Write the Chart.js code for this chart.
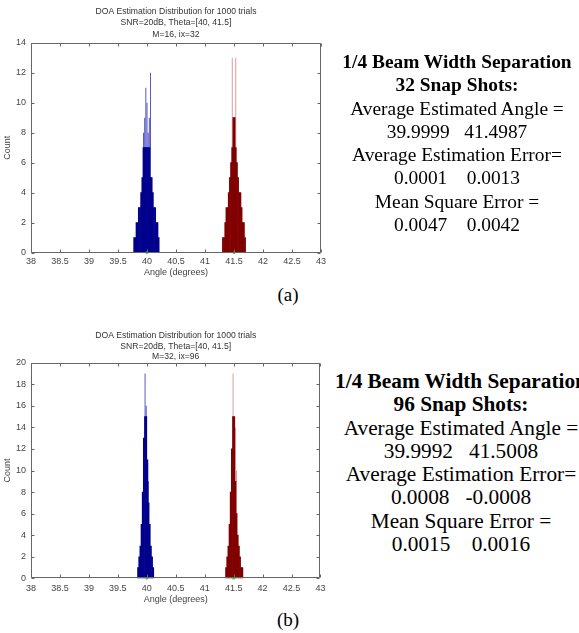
<!DOCTYPE html>
<html>
<head>
<meta charset="utf-8">
<title>DOA Estimation Distribution</title>
<script src="https://cdn.jsdelivr.net/npm/chart.js@4.4.1/dist/chart.umd.min.js"></script>
<style>
  html, body { margin: 0; padding: 0; background: #fff; }
  body { position: relative; width: 579px; height: 633px; overflow: hidden;
         font-family: "Liberation Serif", "Times New Roman", serif; color: #000; }
  canvas { position: absolute; left: 0; }
  #chartA { top: 0; }
  #chartB { top: 320px; }
  .stats { position: absolute; width: 260px; text-align: center;
           white-space: pre; line-height: 23.3px; }
  #statsA { left: 327px; top: 50px; font-size: 19.4px; }
  #statsB { left: 331px; top: 370px; font-size: 21.3px; }
  .stats b { font-weight: bold; }
  .tag { position: absolute; left: 270px; width: 36px; text-align: center; font-size: 19px; line-height: 22px; }
  #tagA { top: 284px; }
  #tagB { top: 609px; }
</style>
</head>
<body>
<canvas id="chartA" width="330" height="280"></canvas>
<canvas id="chartB" width="330" height="285"></canvas>

<div class="stats" id="statsA"><b>1/4 Beam Width Separation</b>
<b>32 Snap Shots:</b>
Average Estimated Angle =
39.9999   41.4987
Average Estimation Error=
0.0001    0.0013
Mean Square Error =
0.0047    0.0042</div>

<div class="stats" id="statsB"><b>1/4 Beam Width Separation</b>
<b>96 Snap Shots:</b>
Average Estimated Angle =
39.9992   41.5008
Average Estimation Error=
0.0008   -0.0008
Mean Square Error =
0.0015    0.0016</div>

<div class="tag" id="tagA">(a)</div>
<div class="tag" id="tagB">(b)</div>

<script>
// true source directions (green markers on the baseline)
const trueAngles = [40, 41.5];

// ---- (a) M=16, 32 snapshots ----
const titleA = ["DOA Estimation Distribution for 1000 trials", "SNR=20dB, Theta=[40, 41.5]", "M=16, ix=32"];
const binsBlueA   = [39.78, 39.80, 39.82, 39.84, 39.86, 39.88, 39.90, 39.92, 39.94, 39.96, 39.98,
                     40.00, 40.02, 40.04, 40.06, 40.08, 40.10, 40.12, 40.14, 40.16, 40.18, 40.20];
const countsBlueA = [1, 1, 2, 2, 3, 3, 4, 5, 7, 7, 7, 7, 7, 7, 5, 5, 4, 3, 3, 2, 2, 1];
const spikesBlueA = [39.94, 39.96, 39.98, 40.00, 40.02, 40.04, 40.06];
const spikeCountsBlueA = [8, 9, 11, 10, 8, 9, 12];
const binsRedA    = [41.31, 41.33, 41.35, 41.37, 41.39, 41.41, 41.43, 41.45, 41.47, 41.49,
                     41.51, 41.53, 41.55, 41.57, 41.59, 41.61, 41.63, 41.65, 41.67, 41.69];
const countsRedA  = [1, 1, 2, 3, 3, 4, 5, 6, 7, 9, 9, 7, 6, 5, 4, 4, 3, 2, 2, 1];
const spikesRedA  = [41.47, 41.53];
const spikeCountsRedA = [13, 13];

// ---- (b) M=32, 96 snapshots ----
const titleB = ["DOA Estimation Distribution for 1000 trials", "SNR=20dB, Theta=[40, 41.5]", "M=32, ix=96"];
const binsBlueB   = [39.85, 39.87, 39.89, 39.91, 39.93, 39.95, 39.97, 39.99, 40.01, 40.03, 40.05, 40.07, 40.09, 40.11];
const countsBlueB = [1, 2, 3, 5, 8, 13, 15, 15, 11, 7, 5, 3, 2, 1];
const spikesBlueB = [39.97, 39.99, 40.03];
const spikeCountsBlueB = [19, 16, 9];
const binsRedB    = [41.37, 41.39, 41.41, 41.43, 41.45, 41.47, 41.49, 41.51, 41.53, 41.55, 41.57, 41.59, 41.61, 41.63, 41.65];
const countsRedB  = [1, 2, 3, 5, 8, 12, 15, 15, 9, 6, 4, 3, 2, 1, 1];
const spikesRedB  = [41.49, 41.53, 41.55];
const spikeCountsRedB = [19, 14, 10];

// axes
const angleMin = 38, angleMax = 43, angleStep = 0.5;
const countMaxA = 14, countMaxB = 20, countStep = 2;

const pts = (xs, ys) => xs.map((x, i) => ({ x, y: ys[i] }));

// MATLAB-like box with inward ticks on all four sides
const matlabBox = {
  id: "matlabBox",
  afterDatasetsDraw(chart) {
    const { ctx, chartArea: a, scales: { x, y } } = chart;
    const L = Math.round(a.left) + 0.5, R = Math.round(a.right) - 0.5;
    const T = Math.round(a.top) + 0.5, B = Math.round(a.bottom) - 0.5;
    ctx.save();
    ctx.strokeStyle = "#666";
    ctx.lineWidth = 1;
    ctx.beginPath();
    ctx.rect(L, T, R - L, B - T);
    x.ticks.forEach(t => {
      const px = Math.round(x.getPixelForValue(t.value)) + 0.5;
      ctx.moveTo(px, B); ctx.lineTo(px, B - 3);
      ctx.moveTo(px, T); ctx.lineTo(px, T + 3);
    });
    y.ticks.forEach(t => {
      const py = Math.round(y.getPixelForValue(t.value)) + 0.5;
      ctx.moveTo(L, py); ctx.lineTo(L + 3, py);
      ctx.moveTo(R, py); ctx.lineTo(R - 3, py);
    });
    ctx.stroke();
    ctx.restore();
  }
};

function histChart(canvasId, o) {
  const ctx = document.getElementById(canvasId).getContext("2d");
  const tickFont = { family: "'Liberation Sans', Arial, sans-serif", size: 9 };
  return new Chart(ctx, {
    type: "bar",
    data: {
      datasets: [
        { type: "scatter", data: trueAngles.map(a => ({ x: a, y: 0 })), backgroundColor: "#1fd01f",
          borderWidth: 0, pointStyle: "rect", pointRadius: 1.6, order: 0, clip: false },
        { data: pts(o.blueBins, o.blueCounts), backgroundColor: "#00008c", order: 1 },
        { data: pts(o.redBins, o.redCounts), backgroundColor: "#800000", order: 1 },
        { data: pts(o.blueSpikes, o.blueSpikeCounts), backgroundColor: "rgba(15,15,175,0.75)",
          barPercentage: 0.8, order: 2 },
        { data: pts(o.redSpikes, o.redSpikeCounts), backgroundColor: "rgba(190,80,80,0.6)",
          barPercentage: 0.8, order: 2 },
      ],
    },
    options: {
      responsive: false,
      animation: false,
      layout: { padding: { left: 0, right: 9, top: 0, bottom: o.padBottom } },
      datasets: { bar: { grouped: false, barPercentage: 1, categoryPercentage: 1, borderWidth: 0 } },
      plugins: {
        legend: { display: false },
        tooltip: { enabled: false },
        title: {
          display: true,
          text: o.title,
          fullSize: false,
          color: "#333",
          font: { family: "'Liberation Sans', Arial, sans-serif", size: 8.6, weight: "normal", lineHeight: o.titleLH },
          padding: { top: o.titleTop, bottom: o.titleBottom },
        },
      },
      scales: {
        x: {
          type: "linear",
          min: angleMin, max: angleMax,
          offset: false,
          grid: { display: false, drawTicks: false },
          border: { display: false },
          ticks: { stepSize: angleStep, color: "#444", font: tickFont, padding: o.xTickPad, maxRotation: 0,
                   autoSkip: false, callback: v => String(+v.toFixed(1)) },
          title: { display: true, text: "Angle (degrees)", color: "#444", font: tickFont, padding: 0 },
          afterFit: s => { s.height = o.xHeight; },
        },
        y: {
          min: 0, max: o.countMax,
          grid: { display: false, drawTicks: false },
          border: { display: false },
          ticks: { stepSize: countStep, color: "#444", font: tickFont, padding: 5 },
          title: { display: true, text: "Count", color: "#444", font: tickFont, padding: { top: 2.6 } },
          afterFit: s => { s.width = 31; },
        },
      },
    },
    plugins: [matlabBox],
  });
}

histChart("chartA", {
  title: titleA, titleLH: 11.3 / 8.6, titleTop: 6, titleBottom: 2.8,
  blueBins: binsBlueA, blueCounts: countsBlueA, redBins: binsRedA, redCounts: countsRedA,
  blueSpikes: spikesBlueA, blueSpikeCounts: spikeCountsBlueA, redSpikes: spikesRedA, redSpikeCounts: spikeCountsRedA,
  countMax: countMaxA, xHeight: 25.1, xTickPad: 3, padBottom: 2.2,
});

histChart("chartB", {
  title: titleB, titleLH: 10.4 / 8.6, titleTop: 10.8, titleBottom: 0.7,
  blueBins: binsBlueB, blueCounts: countsBlueB, redBins: binsRedB, redCounts: countsRedB,
  blueSpikes: spikesBlueB, blueSpikeCounts: spikeCountsBlueB, redSpikes: spikesRedB, redSpikeCounts: spikeCountsRedB,
  countMax: countMaxB, xHeight: 26.5, xTickPad: 4.5, padBottom: 285 - 42.7 - 215.6 - 26.5,
});
</script>
</body>
</html>
